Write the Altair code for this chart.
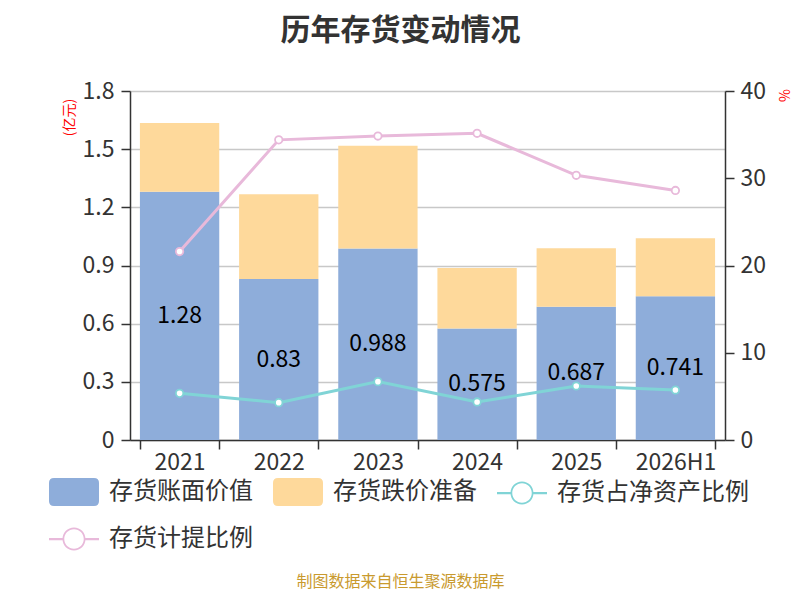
import altair as alt
import pandas as pd

years = ["2021", "2022", "2023", "2024", "2025", "2026H1"]
book_value = [1.28, 0.83, 0.988, 0.575, 0.687, 0.741]
provision = [0.355, 0.437, 0.530, 0.312, 0.302, 0.299]
ratio_net_assets = [5.35, 4.28, 6.69, 4.36, 6.19, 5.73]
ratio_provision = [21.6, 34.4, 34.84, 35.15, 30.34, 28.6]
book_labels = ["1.28", "0.83", "0.988", "0.575", "0.687", "0.741"]

series = ["存货账面价值", "存货跌价准备", "存货占净资产比例", "存货计提比例"]
colors = ["#8EADDA", "#FED99B", "#80D4D6", "#E8B9DA"]

FONT = "Noto Sans CJK SC"

rect_path = ("M-0.8,-0.56 L0.8,-0.56 Q1,-0.56 1,-0.36 L1,0.36 Q1,0.56 0.8,0.56 "
             "L-0.8,0.56 Q-1,0.56 -1,0.36 L-1,-0.36 Q-1,-0.56 -0.8,-0.56 Z")
line_circle_path = ("M0.46,0 A0.46,0.46 0 1,1 -0.46,0 A0.46,0.46 0 1,1 0.46,0 Z "
                    "M0.39,0 A0.39,0.39 0 1,0 -0.39,0 A0.39,0.39 0 1,0 0.39,0 Z "
                    "M-1,-0.045 L-0.45,-0.045 L-0.45,0.045 L-1,0.045 Z "
                    "M0.45,-0.045 L1,-0.045 L1,0.045 L0.45,0.045 Z")

bar_rows = []
for i, y in enumerate(years):
    bar_rows.append({"year": y, "series": series[0], "value": book_value[i], "order": 0})
    bar_rows.append({"year": y, "series": series[1], "value": provision[i], "order": 1})
df_bar = pd.DataFrame(bar_rows)

df_text = pd.DataFrame({"year": years, "book": book_value, "label": book_labels})

line_rows = []
for i, y in enumerate(years):
    line_rows.append({"year": y, "series": series[2], "value": ratio_net_assets[i]})
    line_rows.append({"year": y, "series": series[3], "value": ratio_provision[i]})
df_line = pd.DataFrame(line_rows)

df_legend = pd.DataFrame({"series": series})

x_enc = alt.X(
    "year:N", sort=years,
    scale=alt.Scale(paddingInner=0.2, paddingOuter=0.1),
    axis=alt.Axis(
        title="制图数据来自恒生聚源数据库", titleX=270, titleY=146,
        titleColor="#C99A2E", titleFontSize=16, titleFontWeight="normal",
        titleFont=FONT, titleBaseline="alphabetic", titleAlign="center",
        labelAngle=0, labelFontSize=23, labelColor="#333", labelFont=FONT,
        labelPadding=2, tickBand="extent", tickSize=9, tickWidth=1.5,
        tickColor="#333", domainColor="#333", domainWidth=1.5,
    ),
)

left_axis = alt.Axis(
    values=[0, 0.3, 0.6, 0.9, 1.2, 1.5, 1.8], format="~g",
    title="(亿元)", titleColor="red", titleFontSize=14, titleFontWeight="normal",
    titleFont=FONT, titleX=-61, titleY=26, titleAlign="center", titleBaseline="middle",
    titleAngle=-90,
    labelFontSize=23, labelColor="#333", labelFont=FONT, labelPadding=7,
    tickSize=9, tickWidth=1.5, tickColor="#333", domainColor="#333", domainWidth=1.5,
    grid=True, gridColor="#C8C8C8", gridWidth=1.5,
)

right_axis = alt.Axis(
    orient="right", values=[0, 10, 20, 30, 40],
    title="%", titleColor="red", titleFontSize=14, titleFontWeight="normal",
    titleFont=FONT, titleX=60, titleY=4, titleAlign="center", titleBaseline="middle",
    titleAngle=-90,
    labelFontSize=23, labelColor="#333", labelFont=FONT, labelPadding=6,
    tickSize=9, tickWidth=1.5, tickColor="#333", domainColor="#333", domainWidth=1.5,
    grid=False,
)

y_left_scale = alt.Scale(domain=[0, 1.8], nice=False)
y_right = alt.Y("value:Q", scale=alt.Scale(domain=[0, 40], nice=False), axis=right_axis)

bars = alt.Chart(df_bar).mark_bar().encode(
    x=x_enc,
    y=alt.Y("value:Q", stack="zero", scale=y_left_scale, axis=left_axis),
    fill=alt.Fill("series:N", scale=alt.Scale(domain=series[:2], range=colors[:2]), legend=None),
    order=alt.Order("order:Q"),
)

texts = alt.Chart(df_text).transform_calculate(mid="datum.book / 2").mark_text(
    fontSize=23, color="black", baseline="middle", font=FONT
).encode(
    x=x_enc,
    y=alt.Y("mid:Q", scale=y_left_scale, axis=left_axis),
    text="label:N",
)

line_stroke = alt.Stroke("series:N", scale=alt.Scale(domain=series[2:], range=colors[2:]), legend=None)

lines = alt.Chart(df_line).mark_line(strokeWidth=3).encode(
    x=x_enc, y=y_right, stroke=line_stroke,
)

points = alt.Chart(df_line).mark_point(
    shape="circle", filled=False, fill="white", size=55, strokeWidth=1.8, opacity=1
).encode(
    x=x_enc, y=y_right, stroke=line_stroke,
)

legend_spec = dict(
    title=None, orient="none", legendX=-81, legendY=376, columns=3,
    direction="horizontal", symbolSize=2500, symbolStrokeWidth=0,
    labelFontSize=24, labelColor="#333", labelFont=FONT, labelOffset=10,
    labelLimit=400, columnPadding=20, rowPadding=8, padding=0, gridAlign="each",
)

legend_layer = alt.Chart(df_legend).transform_filter("false").mark_point(
    filled=True, opacity=1
).encode(
    color=alt.Color("series:N", scale=alt.Scale(domain=series, range=colors),
                    legend=alt.Legend(**legend_spec)),
    shape=alt.Shape(
        "series:N",
        scale=alt.Scale(domain=series, range=[rect_path, rect_path, line_circle_path, line_circle_path]),
        legend=alt.Legend(**legend_spec),
    ),
)

left = alt.layer(bars, texts)
right = alt.layer(lines, points, legend_layer)

chart = alt.layer(left, right).resolve_scale(y="independent").properties(
    width=595, height=349,
    autosize=alt.AutoSizeParams(type="none"),
    padding={"left": 122, "top": 83, "right": 67, "bottom": 152},
    title=alt.Title(
        "历年存货变动情况", fontSize=30, fontWeight="bold", color="#333",
        font=FONT, anchor="middle", dx=-27, offset=34,
    ),
    background="white",
).configure_view(stroke=None)

chart.save("out.html", embed_options={"renderer": "svg", "actions": False})
